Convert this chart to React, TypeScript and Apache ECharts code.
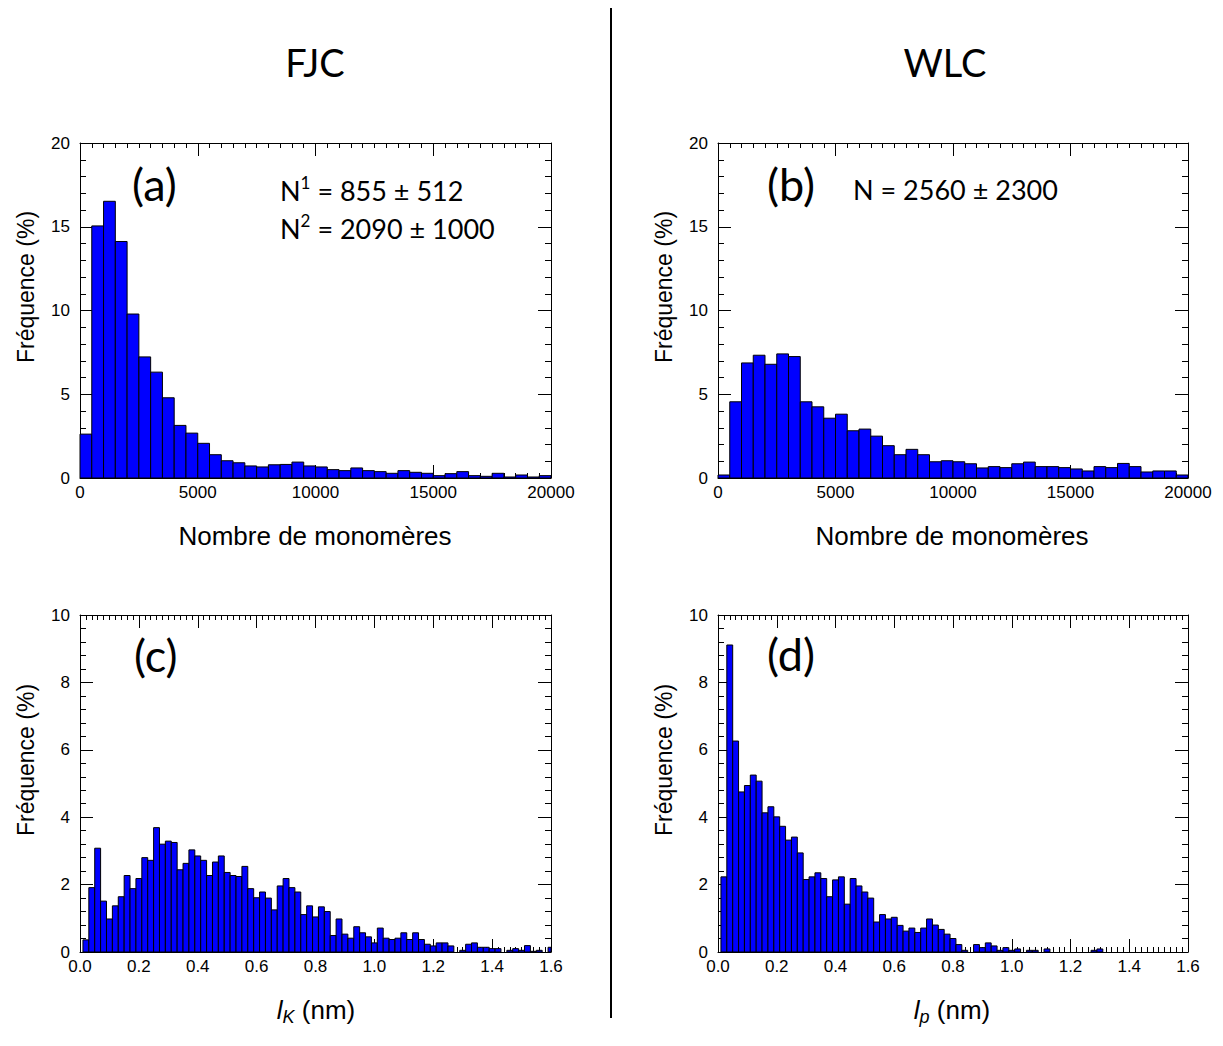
import React, { useEffect, useRef } from "react";
import * as echarts from "echarts";

// ---- Data (frequencies in %) ----
// (a) FJC, number of monomers, bins of 500 from 0 to 20000
const monomerBinWidth = 500;
const fjcMonomerFreq = [
  2.62, 15.05, 16.52, 14.12, 9.79, 7.23, 6.32, 4.79, 3.14, 2.68,
  2.07, 1.39, 1.03, 0.91, 0.72, 0.66, 0.79, 0.81, 0.95, 0.72,
  0.66, 0.5, 0.44, 0.6, 0.44, 0.38, 0.28, 0.44, 0.34, 0.28,
  0.14, 0.26, 0.38, 0.14, 0.1, 0.28, 0.06, 0.18, 0.06, 0.14,
];
// (b) WLC, number of monomers
const wlcMonomerFreq = [
  0.18, 4.55, 6.87, 7.33, 6.79, 7.41, 7.25, 4.55, 4.25, 3.57,
  3.81, 2.82, 2.92, 2.5, 1.93, 1.39, 1.71, 1.39, 0.97, 1.03,
  0.97, 0.85, 0.6, 0.68, 0.62, 0.85, 0.95, 0.68, 0.68, 0.62,
  0.54, 0.42, 0.68, 0.62, 0.87, 0.68, 0.36, 0.42, 0.42, 0.18,
];
// (c) FJC, Kuhn length l_K (nm), bins of 0.02 centred on 0.02, 0.04, ...
const lengthBinWidth = 0.02;
const fjcLengthFreq = [
  0.36, 1.91, 3.08, 1.51, 0.98, 1.37, 1.64, 2.27, 1.88, 2.18,
  2.8, 2.72, 3.69, 3.2, 3.29, 3.25, 2.44, 2.63, 3.03, 2.85,
  2.72, 2.27, 2.67, 2.85, 2.36, 2.27, 2.24, 2.54, 1.88, 1.61,
  1.78, 1.6, 1.25, 1.96, 2.18, 1.91, 1.78, 1.11, 1.37, 1.04,
  1.34, 1.2, 0.49, 0.98, 0.53, 0.41, 0.75, 0.57, 0.45, 0.27,
  0.71, 0.41, 0.37, 0.41, 0.57, 0.37, 0.57, 0.37, 0.23, 0.18,
  0.27, 0.27, 0.18, 0, 0.05, 0.23, 0.27, 0.14, 0.14, 0.1,
  0.1, 0, 0.05, 0.1, 0.05, 0.19, 0.02, 0.05, 0, 0.14,
];
// (d) WLC, persistence length l_p (nm)
const wlcLengthFreq = [
  2.23, 9.11, 6.26, 4.75, 4.94, 5.25, 5.07, 4.13, 4.31, 4.01,
  3.73, 3.32, 3.41, 2.94, 2.15, 2.23, 2.35, 2.18, 1.64, 2.14,
  2.23, 1.42, 2.18, 1.96, 1.78, 1.6, 0.89, 1.11, 0.98, 1.03,
  0.79, 0.62, 0.71, 0.58, 0.71, 0.98, 0.8, 0.67, 0.53, 0.4,
  0.22, 0.05, 0, 0.22, 0.13, 0.27, 0.18, 0.05, 0.13, 0.05,
  0.09, 0, 0.05, 0.05, 0, 0.09, 0, 0, 0, 0,
  0, 0, 0, 0.05, 0.09, 0, 0, 0, 0, 0,
  0, 0, 0, 0, 0, 0, 0, 0, 0, 0,
];

// tick labels
const monomerTicks = [0, 5000, 10000, 15000, 20000];
const lengthTicks = [0, 0.2, 0.4, 0.6, 0.8, 1.0, 1.2, 1.4, 1.6];
const freqTicksTop = [0, 5, 10, 15, 20];
const freqTicksBottom = [0, 2, 4, 6, 8, 10];

const BLUE = "#0000ff";
const TICK_FONT = "Liberation Sans";
const CAL_FONT = "Lato";

const grids = [
  { left: 80, top: 143, width: 471, height: 335 },
  { left: 718, top: 143, width: 470, height: 335 },
  { left: 80, top: 615, width: 471, height: 337 },
  { left: 718, top: 615, width: 470, height: 337 },
];

function xAxes(g: number, ticks: number[], minorSplit: number, fmt: (v: number) => string) {
  const min = ticks[0];
  const max = ticks[ticks.length - 1];
  const interval = ticks[1] - ticks[0];
  const base = {
    type: "value",
    gridIndex: g,
    min,
    max,
    interval,
    axisLine: { show: true, onZero: false, lineStyle: { color: "#000", width: 1 } },
    axisTick: { show: true, inside: true, length: 13, lineStyle: { color: "#000", width: 1 } },
    minorTick: { show: true, splitNumber: minorSplit, length: 5, lineStyle: { color: "#000", width: 1 } },
    splitLine: { show: false },
    minorSplitLine: { show: false },
  };
  return [
    {
      ...base,
      position: "bottom",
      axisLabel: {
        show: true,
        margin: 6,
        color: "#000",
        fontSize: 17,
        fontFamily: TICK_FONT,
        formatter: (v: number) => fmt(v),
      },
    },
    { ...base, position: "top", axisLabel: { show: false } },
  ];
}

function yAxes(g: number, ticks: number[], minorSplit: number) {
  const min = ticks[0];
  const max = ticks[ticks.length - 1];
  const interval = ticks[1] - ticks[0];
  const base = {
    type: "value",
    gridIndex: g,
    min,
    max,
    interval,
    axisLine: { show: true, onZero: false, lineStyle: { color: "#000", width: 1 } },
    axisTick: { show: true, inside: true, length: 13, lineStyle: { color: "#000", width: 1 } },
    minorTick: { show: true, splitNumber: minorSplit, length: 6, lineStyle: { color: "#000", width: 1 } },
    splitLine: { show: false },
    minorSplitLine: { show: false },
  };
  return [
    {
      ...base,
      position: "left",
      axisLabel: {
        show: true,
        margin: 10,
        color: "#000",
        fontSize: 17,
        fontFamily: TICK_FONT,
      },
    },
    { ...base, position: "right", axisLabel: { show: false } },
  ];
}

function histRender(width: number, xmin: number, xmax: number) {
  return (params: any, api: any) => {
    const c = api.value(0);
    const v = api.value(1);
    if (!v) return null;
    const x0 = Math.max(c - width / 2, xmin);
    const x1 = Math.min(c + width / 2, xmax);
    const p0 = api.coord([x0, v]);
    const p1 = api.coord([x1, 0]);
    return {
      type: "rect",
      shape: { x: p0[0], y: p0[1], width: p1[0] - p0[0], height: p1[1] - p0[1] },
      style: { fill: BLUE, stroke: "#000", lineWidth: 1 },
    };
  };
}

function histSeries(g: number, freqs: number[], width: number, firstCenter: number, xmin: number, xmax: number) {
  return {
    type: "custom",
    xAxisIndex: g * 2,
    yAxisIndex: g * 2,
    renderItem: histRender(width, xmin, xmax),
    encode: { x: 0, y: 1 },
    data: freqs.map((f, i) => [firstCenter + i * width, f]),
    z: 3,
  };
}

function yName(x: number, y: number) {
  return {
    type: "text",
    x,
    y,
    rotation: Math.PI / 2,
    style: {
      text: "Fréquence (%)",
      fill: "#000",
      font: `23px "${TICK_FONT}"`,
      align: "center",
      verticalAlign: "middle",
    },
  };
}

function plainText(x: number, y: number, text: string, size: number, family: string, align = "center") {
  return {
    type: "text",
    x,
    y,
    style: {
      text,
      fill: "#000",
      font: `${size}px "${family}"`,
      align,
      verticalAlign: "middle",
    },
  };
}

function nText(x: number, y: number, sup: string, rest: string) {
  return {
    type: "text",
    x,
    y,
    style: {
      text: sup ? `{n|N}{s|${sup}}{n|${rest}}` : `{n|N${rest}}`,
      fill: "#000",
      align: "left",
      verticalAlign: "middle",
      rich: {
        n: { fontSize: 27, fontFamily: CAL_FONT, lineHeight: 33, fill: "#000" },
        s: { fontSize: 17, fontFamily: CAL_FONT, lineHeight: 33, verticalAlign: "top", fill: "#000" },
      },
    },
  };
}

function lenName(x: number, y: number, sub: string) {
  return {
    type: "text",
    x,
    y,
    style: {
      text: `{l|l}{k|${sub}}{n| (nm)}`,
      fill: "#000",
      align: "center",
      verticalAlign: "middle",
      rich: {
        l: { fontSize: 26, fontFamily: TICK_FONT, fontStyle: "italic", lineHeight: 32, fill: "#000" },
        k: { fontSize: 18, fontFamily: TICK_FONT, fontStyle: "italic", lineHeight: 32, verticalAlign: "bottom", fill: "#000" },
        n: { fontSize: 26, fontFamily: TICK_FONT, lineHeight: 32, fill: "#000" },
      },
    },
  };
}

export default function App() {
  const ref = useRef<HTMLDivElement>(null);
  useEffect(() => {
    if (!ref.current) return;
    const chart = echarts.init(ref.current, undefined, { renderer: "svg" });
    const intFmt = (v: number) => String(Math.round(v));
    const decFmt = (v: number) => v.toFixed(1);
    const option: any = {
      animation: false,
      backgroundColor: "#fff",
      grid: grids.map((g) => ({ ...g, show: false })),
      xAxis: [
        ...xAxes(0, monomerTicks, 10, intFmt),
        ...xAxes(1, monomerTicks, 10, intFmt),
        ...xAxes(2, lengthTicks, 10, decFmt),
        ...xAxes(3, lengthTicks, 10, decFmt),
      ],
      yAxis: [
        ...yAxes(0, freqTicksTop, 5),
        ...yAxes(1, freqTicksTop, 5),
        ...yAxes(2, freqTicksBottom, 5),
        ...yAxes(3, freqTicksBottom, 5),
      ],
      series: [
        histSeries(0, fjcMonomerFreq, monomerBinWidth, monomerBinWidth / 2, 0, 20000),
        histSeries(1, wlcMonomerFreq, monomerBinWidth, monomerBinWidth / 2, 0, 20000),
        histSeries(2, fjcLengthFreq, lengthBinWidth, lengthBinWidth, 0, 1.6),
        histSeries(3, wlcLengthFreq, lengthBinWidth, lengthBinWidth, 0, 1.6),
      ],
      graphic: [
        {
          type: "line",
          shape: { x1: 611, y1: 8, x2: 611, y2: 1018 },
          style: { stroke: "#000", lineWidth: 2 },
        },
        plainText(315, 62, "FJC", 38, CAL_FONT),
        plainText(945, 62, "WLC", 38, CAL_FONT),
        yName(26, 287),
        yName(664, 287),
        yName(26, 760),
        yName(664, 760),
        plainText(315, 536, "Nombre de monomères", 26, TICK_FONT),
        plainText(952, 536, "Nombre de monomères", 26, TICK_FONT),
        lenName(316, 1010, "K"),
        lenName(952, 1010, "p"),
        plainText(132, 184, "(a)", 45, CAL_FONT, "left"),
        plainText(767, 184, "(b)", 45, CAL_FONT, "left"),
        plainText(134, 655, "(c)", 45, CAL_FONT, "left"),
        plainText(767, 654, "(d)", 45, CAL_FONT, "left"),
        nText(280, 190, "1", " = 855 ± 512"),
        nText(280, 228, "2", " = 2090 ± 1000"),
        nText(853, 189, "", " = 2560 ± 2300"),
      ],
    };
    chart.setOption(option);
    return () => chart.dispose();
  }, []);
  return (
    <div
      ref={ref}
      style={{ position: "fixed", left: 0, top: 0, width: 1223, height: 1046, background: "#fff" }}
    />
  );
}
